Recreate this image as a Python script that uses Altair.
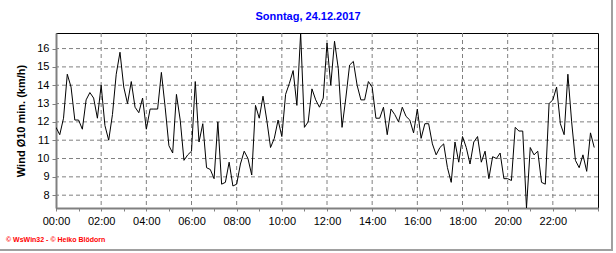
import altair as alt
import pandas as pd

# 10-minute mean wind speed (km/h), 24.12.2017, 00:00 .. 23:50
wind = [
    11.7, 11.3, 12.2, 14.6, 13.9, 12.1, 12.1, 11.6, 13.2, 13.6, 13.3, 12.2,
    14.0, 11.8, 11.0, 12.4, 14.6, 15.8, 13.9, 13.0, 14.2, 12.8, 12.5, 13.3,
    11.6, 12.7, 12.7, 12.7, 14.7, 12.8, 10.7, 10.3, 13.5, 12.1, 9.9, 10.2,
    10.4, 14.2, 10.9, 11.9, 9.5, 9.4, 8.9, 12.0, 8.6, 8.7, 9.8, 8.5,
    8.6, 9.7, 10.4, 10.0, 9.1, 12.9, 12.2, 13.4, 12.1, 10.6, 11.1, 12.1,
    11.2, 13.5, 14.1, 14.8, 12.9, 16.85, 11.7, 12.0, 13.8, 13.2, 12.8, 13.3,
    16.3, 14.0, 16.4, 14.9, 11.7, 13.3, 15.1, 15.3, 14.0, 13.2, 13.2, 14.2,
    13.9, 12.2, 12.2, 12.8, 11.3, 12.7, 12.4, 12.0, 12.8, 12.3, 12.1, 11.4,
    12.7, 11.1, 11.9, 11.9, 10.8, 10.2, 10.6, 10.8, 9.5, 8.7, 10.9, 9.8,
    11.2, 10.6, 9.7, 10.9, 11.2, 9.8, 10.4, 8.9, 10.1, 10.0, 10.3, 8.9,
    8.9, 8.8, 11.7, 11.5, 11.5, 7.3, 10.6, 10.2, 10.4, 8.7, 8.6, 13.0,
    13.2, 13.9, 11.9, 11.3, 14.6, 12.0, 9.9, 9.5, 10.2, 9.3, 11.4, 10.6,
]
minutes = [i * 10 for i in range(len(wind))]

y_grid = [8, 9, 10, 11, 12, 13, 14, 15, 16]
x_grid_min = [120, 240, 360, 480, 600, 720, 840, 960, 1080, 1200, 1320]
x_tick_min = [h * 60 for h in range(25)]

title_text = "Sonntag, 24.12.2017"
y_title = "Wind Ø10 min. (km/h)"
footer_text = "© WsWin32 - © Heiko Blödorn"

FONT = "Liberation Sans"
W, H = 542, 175
PAD_L, PAD_T = 56, 33

df = pd.DataFrame({"t": minutes, "v": wind})
xscale = alt.Scale(domain=[0, 1440], nice=False, zero=False)
yscale = alt.Scale(domain=[7.3, 16.85], nice=False, zero=False)

xaxis = alt.Axis(
    values=x_tick_min,
    labelExpr="(datum.value % 120 == 0 && datum.value < 1440) ? ((floor(datum.value/60) < 10 ? '0' : '') + floor(datum.value/60) + ':00') : ''",
    title=None,
    tickSize=3,
    labelPadding=4,
    labelFlush=False,
    labelOverlap=False,
)
yaxis = alt.Axis(
    values=y_grid,
    title=y_title,
    titleFont=FONT,
    titleFontSize=11,
    titleFontWeight="bold",
    titleColor="black",
    titlePadding=10,
    tickSize=4,
    labelPadding=3,
)

grid_style = dict(color="#808080", strokeWidth=1, strokeDash=[4, 3])

hgrid = alt.Chart(pd.DataFrame({"v": y_grid})).mark_rule(**grid_style).encode(
    y=alt.Y("v:Q", scale=yscale, axis=yaxis)
)
vgrid = alt.Chart(pd.DataFrame({"t": x_grid_min})).mark_rule(**grid_style).encode(
    x=alt.X("t:Q", scale=xscale, axis=xaxis)
)

line = alt.Chart(df).mark_line(color="black", strokeWidth=1, clip=True).encode(
    x=alt.X("t:Q", scale=xscale, axis=xaxis),
    y=alt.Y("v:Q", scale=yscale, axis=yaxis),
)

title = alt.Chart(pd.DataFrame({"s": [title_text]})).mark_text(
    font=FONT, fontSize=11, fontWeight="bold", color="#0000ff", align="center", baseline="middle"
).encode(x=alt.value(308 - PAD_L), y=alt.value(17 - PAD_T), text="s:N")

footer = alt.Chart(pd.DataFrame({"s": [footer_text]})).mark_text(
    font=FONT, fontSize=7, fontWeight="bold", color="#ff0000", align="left", baseline="middle"
).encode(x=alt.value(6 - PAD_L), y=alt.value(240 - PAD_T), text="s:N")

border_r = alt.Chart(pd.DataFrame({"a": [0]})).mark_rule(color="#a0a0a0", strokeWidth=2).encode(
    x=alt.value(612 - PAD_L), y=alt.value(-PAD_T), y2=alt.value(251 - PAD_T)
)
border_b = alt.Chart(pd.DataFrame({"a": [0]})).mark_rule(color="#a0a0a0", strokeWidth=2).encode(
    x=alt.value(-PAD_L), x2=alt.value(613 - PAD_L), y=alt.value(250 - PAD_T)
)

chart = (
    alt.layer(hgrid, vgrid, line, title, footer, border_r, border_b)
    .properties(
        width=W,
        height=H,
        autosize="none",
        padding={"left": PAD_L, "top": PAD_T, "right": 616 - PAD_L - W, "bottom": 253 - PAD_T - H},
        background="white",
    )
    .configure_view(stroke="black", strokeWidth=1)
    .configure_axis(
        domainColor="#808080",
        domainWidth=2,
        tickColor="#808080",
        tickWidth=1,
        labelFont=FONT,
        labelFontSize=11,
        labelColor="black",
        grid=False,
    )
)

chart.save("out.html", embed_options={"renderer": "svg", "actions": False})
